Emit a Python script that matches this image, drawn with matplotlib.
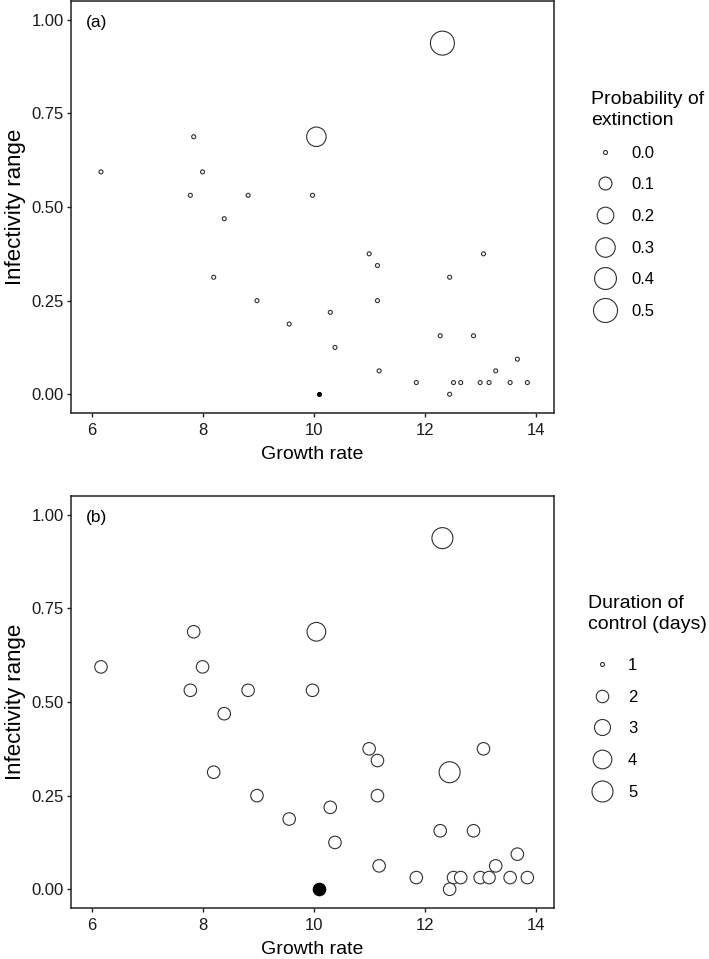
import matplotlib
matplotlib.use("Agg")
import matplotlib.pyplot as plt
from matplotlib.lines import Line2D
import numpy as np

plt.rcParams['font.family'] = ['Liberation Sans', 'DejaVu Sans']

# ---- data ----
growth_rate = [12.31, 10.04, 7.83, 6.16, 7.99, 7.77, 8.81, 9.97, 8.38, 10.99,
               11.14, 8.19, 12.44, 13.05, 8.97, 11.14, 10.29, 9.55, 10.375, 12.27,
               12.87, 13.66, 13.27, 11.17, 11.84, 12.51, 12.64, 12.99, 13.15, 13.53,
               13.84, 12.44, 10.09]
infectivity = [0.9375, 0.6875, 0.6875, 0.59375, 0.59375, 0.53125, 0.53125, 0.53125, 0.46875, 0.375,
               0.34375, 0.3125, 0.3125, 0.375, 0.25, 0.25, 0.21875, 0.1875, 0.125, 0.15625,
               0.15625, 0.09375, 0.0625, 0.0625, 0.03125, 0.03125, 0.03125, 0.03125, 0.03125, 0.03125,
               0.03125, 0.0, 0.0]
extinction = [0.5, 0.3, 0, 0, 0, 0, 0, 0, 0, 0,
              0, 0, 0, 0, 0, 0, 0, 0, 0, 0,
              0, 0, 0, 0, 0, 0, 0, 0, 0, 0,
              0, 0, 0]
duration = [5, 4, 2, 2, 2, 2, 2, 2, 2, 2,
            2, 2, 5, 2, 2, 2, 2, 2, 2, 2,
            2, 2, 2, 2, 2, 2, 2, 2, 2, 2,
            2, 2, 2]
is_ancestor = [False] * 32 + [True]

ext_breaks = [0.0, 0.1, 0.2, 0.3, 0.4, 0.5]
ext_labels = ["0.0", "0.1", "0.2", "0.3", "0.4", "0.5"]
dur_breaks = [1, 2, 3, 4, 5]
dur_labels = ["1", "2", "3", "4", "5"]
x_ticks = [6, 8, 10, 12, 14]
y_ticks = [0.0, 0.25, 0.5, 0.75, 1.0]
y_ticklabels = ["0.00", "0.25", "0.50", "0.75", "1.00"]

# ---- size scales (diameter in px -> marker size) ----
PX2PT = 0.72
def ext_diam(v):
    return 4 + 20 * np.sqrt(np.asarray(v, float) / 0.5)
def dur_diam(v):
    return 4 + 17 * np.sqrt((np.asarray(v, float) - 1) / 4)

W, H = 709, 959
fig = plt.figure(figsize=(W / 100, H / 100), dpi=100)

def add_axes_px(left, top, right, bottom):
    return fig.add_axes([left / W, 1 - bottom / H, (right - left) / W, (bottom - top) / H])

ax_a = add_axes_px(71, 1, 554, 413)
ax_b = add_axes_px(71, 496, 554, 908)

x = np.array(growth_rate)
y = np.array(infectivity)
anc = np.array(is_ancestor)

EDGE = '#303030'
TICKFS = 12
def draw(ax, diam, tag, tag_y):
    d = np.asarray(diam)
    s = (d * PX2PT) ** 2
    ax.scatter(x[~anc], y[~anc], s=s[~anc], facecolors='white', edgecolors=EDGE,
               linewidths=0.8, zorder=3)
    ax.scatter(x[anc], y[anc], s=s[anc], facecolors='black', edgecolors='black',
               linewidths=0.8, zorder=3)
    ax.set_xlim(5.62, 14.32)
    ax.set_ylim(-0.05, 1.05)
    ax.set_xticks(x_ticks)
    ax.set_xticklabels([str(t) for t in x_ticks])
    ax.set_yticks(y_ticks)
    ax.set_yticklabels(y_ticklabels)
    ax.tick_params(axis='both', direction='out', length=3, width=1.0, color='#222222',
                   labelsize=TICKFS, labelcolor='#1a1a1a')
    ax.tick_params(axis='y', pad=2)
    ax.tick_params(axis='x', pad=4)
    for sp in ax.spines.values():
        sp.set_linewidth(1.1)
        sp.set_color('#222222')
    ax.set_xlabel("Growth rate", fontsize=14, labelpad=6)
    ax.set_ylabel("Infectivity range", fontsize=16, labelpad=4)
    ax.text(0.031, tag_y, tag, transform=ax.transAxes, fontsize=12.5, ha='left', va='center')

draw(ax_a, ext_diam(extinction), "(a)", 0.949)
draw(ax_b, dur_diam(duration), "(b)", 0.947)

def make_legend(ax, breaks, labels, diamfun, title, left_px, top_px, title_gap_pt):
    handles = [Line2D([], [], linestyle='none', marker='o', markerfacecolor='white',
                      markeredgecolor=EDGE, markeredgewidth=0.8,
                      markersize=float(diamfun(b)) * PX2PT) for b in breaks]
    leg = ax.legend(handles, labels, title=title, loc='upper left',
                    bbox_to_anchor=(left_px / W, 1 - top_px / H),
                    bbox_transform=fig.transFigure, frameon=False,
                    fontsize=TICKFS, title_fontsize=14, alignment='left',
                    handlelength=1.68, handletextpad=0.72, labelspacing=1.0,
                    borderpad=0, borderaxespad=0)
    leg.get_title().set_linespacing(1.3)
    try:
        leg._legend_box.sep = title_gap_pt
    except Exception:
        pass
    return leg

make_legend(ax_a, ext_breaks, ext_labels, ext_diam, "Probability of\nextinction", 591, 91, 12)
make_legend(ax_b, dur_breaks, dur_labels, dur_diam, "Duration of\ncontrol (days)", 588, 595, 18)

fig.savefig("out.png", dpi=100)
